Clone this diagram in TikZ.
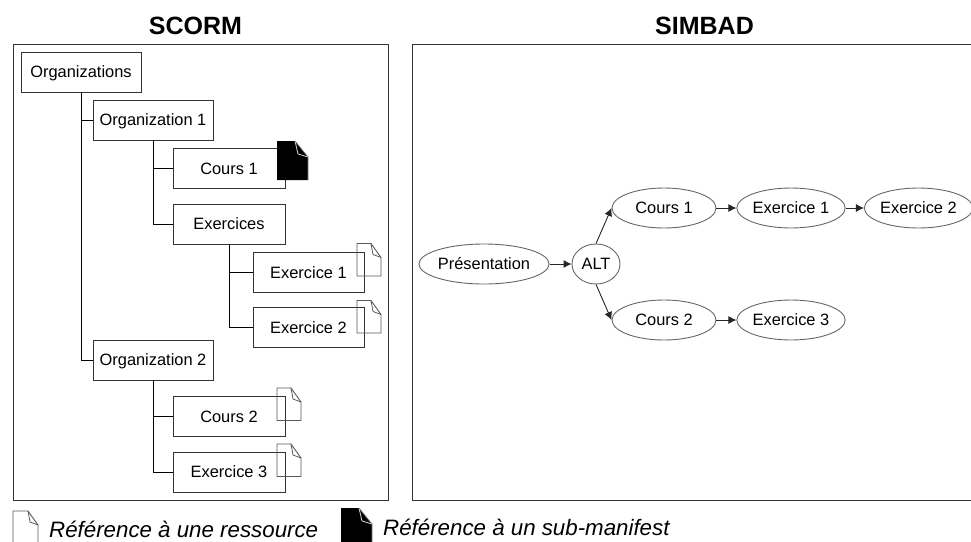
\documentclass[tikz,border=0pt]{standalone}
\usepackage{fontspec}
\setmainfont{Liberation Sans}
\usetikzlibrary{shapes.geometric,arrows.meta}
\definecolor{linegray}{gray}{0.2}
\tikzset{
  x=1pt,y=-1pt,
  frame/.style={draw=linegray,line width=1pt},
  box/.style={draw=linegray,line width=0.9pt,minimum height=40pt,inner sep=0pt,font=\fontsize{16.4}{18}\selectfont,text height=11.8pt,text depth=0pt},
  wideA/.style={box,minimum width=120pt},
  wideB/.style={box,minimum width=112pt},
  oval/.style={draw=black!60,line width=0.9pt,ellipse,inner sep=0pt,minimum height=40pt,font=\fontsize{16.4}{18}\selectfont,text height=11.8pt,text depth=0pt},
  tree/.style={draw=black,line width=0.9pt},
  flow/.style={draw=black!85,line width=0.9pt,-{Latex[length=8pt,width=8pt]}},
  title/.style={font=\bfseries\fontsize{25}{27}\selectfont,inner sep=0pt,text height=18pt,text depth=0pt},
  legend/.style={font=\itshape\fontsize{22.3}{24}\selectfont,inner sep=0pt,anchor=west,text height=16.2pt,text depth=0pt},
}
\newcommand{\docline}[4]{% x y w h
  \draw[draw=black!65,line width=0.9pt,line join=miter]
    (#1,#2) -- ++(#3-10,0) -- ++(10,14) -- (#1+#3,#2+#4) -- (#1,#2+#4) -- cycle;
  \draw[draw=black!65,line width=0.8pt] (#1+#3-10,#2) -- ++(2,11) -- ++(8,3);
}
\newcommand{\docblack}[4]{% x y w h
  \fill[black] (#1,#2) -- ++(#3-13,0) -- ++(13,16) -- (#1+#3,#2+#4) -- (#1,#2+#4) -- cycle;
  \draw[draw=black!15,line width=0.8pt] (#1+#3-13,#2) -- ++(3,13) -- ++(10,3);
  \draw[draw=black!50,line width=0.7pt] (#1+#3-13,#2) -- ++(13,16) -- (#1+#3,#2+#4);
}
\begin{document}
\begin{tikzpicture}
\useasboundingbox (0,0) rectangle (971,541);
\node[title] (t1) at (195.5,25.5) {SCORM};
\node[title] (t2) at (704.5,25.5) {SIMBAD};
\node[frame,minimum width=375.5pt,minimum height=456pt,inner sep=0pt] (f1) at (201.2,272) {};
\node[frame,minimum width=562pt,minimum height=456pt,inner sep=0pt] (f2) at (693.5,272) {};
% SCORM tree
\node[wideA] (orgs) at (81,72) {Organizations};
\node[wideA] (org1) at (153,120) {Organization 1};
\node[wideB] (c1) at (229,168.5) {Cours 1};
\node[wideB] (exs) at (229,224) {Exercices};
\node[wideB,minimum width=111pt] (e1) at (308.5,272.7) {Exercice 1};
\node[wideB,minimum width=111pt] (e2) at (308.5,327.7) {Exercice 2};
\node[wideA] (org2) at (153,360) {Organization 2};
\node[wideB] (c2) at (229,416.5) {Cours 2};
\node[wideB] (e3) at (229,472) {Exercice 3};
\draw[tree] (orgs.south) |- (org1.west);
\draw[tree] (orgs.south) |- (org2.west);
\draw[tree] (org1.south) |- (c1.west);
\draw[tree] (org1.south) |- (exs.west);
\draw[tree] (exs.south) |- (e1.west);
\draw[tree] (exs.south) |- (e2.west);
\draw[tree] (org2.south) |- (c2.west);
\draw[tree] (org2.south) |- (e3.west);
% reference icons
\docblack{277}{141}{31}{39}
\docline{357}{243.5}{24}{32.5}
\docline{357}{300.5}{24}{32.5}
\docline{277}{388}{24}{32.5}
\docline{277}{444}{24}{32.5}
% SIMBAD graph
\node[oval,minimum width=128pt] (p) at (484,264) {Présentation};
\node[oval,minimum width=48pt] (alt) at (596,264) {ALT};
\node[oval,minimum width=104pt] (sc1) at (664,208) {Cours 1};
\node[oval,minimum width=104pt] (se1) at (791,208) {Exercice 1};
\node[oval,minimum width=104pt] (se2) at (918.5,208) {Exercice 2};
\node[oval,minimum width=104pt] (sc2) at (664,320) {Cours 2};
\node[oval,minimum width=104pt] (se3) at (791,320) {Exercice 3};
\draw[flow] (p) -- (alt);
\draw[flow] (alt.north) -- (sc1.west);
\draw[flow] (alt.south) -- (sc2.west);
\draw[flow] (sc1) -- (se1);
\draw[flow] (se1) -- (se2);
\draw[flow] (sc2) -- (se3);
% legend
\docline{13}{511}{25}{40}
\docblack{341}{508}{31}{40}
\node[legend] (l1) at (49,529.8) {Référence à une ressource};
\node[legend] (l2) at (383,527) {Référence à un sub-manifest};
\end{tikzpicture}
\end{document}
